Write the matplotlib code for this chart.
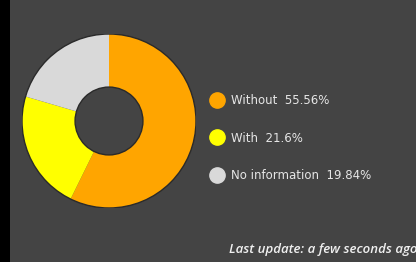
import matplotlib
matplotlib.use("Agg")
import matplotlib.pyplot as plt
from matplotlib.lines import Line2D
from matplotlib.patches import Rectangle, Circle

# data
labels = ["Without", "With", "No information"]
values = [55.56, 21.6, 19.84]
colors = ["#FFA500", "#FFFF00", "#D9D9D9"]
footer = "Last update: a few seconds ago"

bg = "#444444"

fig = plt.figure(figsize=(4.16, 2.62), dpi=100, facecolor=bg)
# dark stripe on the left edge
fig.patches.append(Rectangle((0, 0), 10 / 416, 1, transform=fig.transFigure,
                             facecolor="#000000", edgecolor="none"))

# donut, centre ~ (109, 121), radius ~ 87 px
ax = fig.add_axes([22 / 416, 1 - 208 / 262, 174 / 416, 174 / 262])
ax.set_facecolor(bg)
ax.pie(values, colors=colors, startangle=90, counterclock=False,
       wedgeprops=dict(width=0.61, linewidth=0))
ax.add_patch(Circle((0, 0), 1.0, fill=False, edgecolor="#2a2a2a", linewidth=1.0))
ax.add_patch(Circle((0, 0), 0.39, fill=False, edgecolor="#2a2a2a", linewidth=1.0))
ax.set_xlim(-1.0, 1.0)
ax.set_ylim(-1.0, 1.0)
ax.set_aspect("equal")
ax.axis("off")

# legend
handles = [Line2D([], [], linestyle="none", marker="o", markersize=11,
                  markerfacecolor=c, markeredgecolor=c) for c in colors]
texts = [f"{l}  {v}%" for l, v in zip(labels, values)]
leg = fig.legend(handles, texts, loc="center left",
                 bbox_to_anchor=(200 / 416, 1 - 138 / 262),
                 frameon=False, labelcolor="#E6E6E6",
                 labelspacing=2.05, handlelength=1.0, handletextpad=0.7,
                 prop={"family": "DejaVu Sans", "size": 8.5})

fig.text(229 / 416, 1 - 250 / 262, footer, color="#F0F0F0", fontsize=9.5,
         style="italic", weight="semibold", family="Open Sans",
         va="center", ha="left")

fig.savefig("out.png", dpi=100, facecolor=bg)
